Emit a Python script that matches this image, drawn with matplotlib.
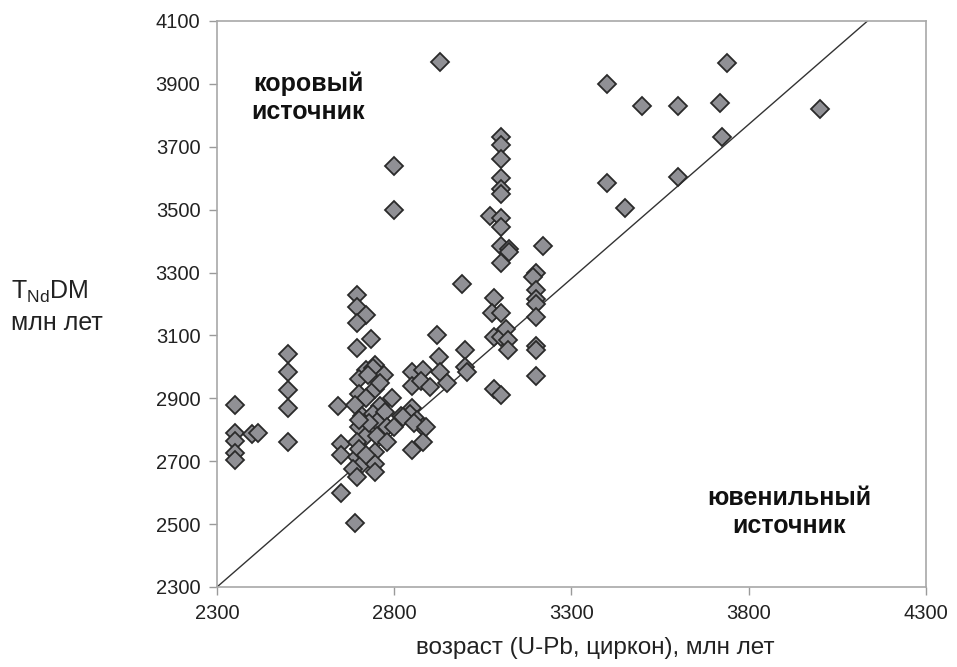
import matplotlib
matplotlib.use("Agg")
import matplotlib.pyplot as plt

plt.rcParams['font.family'] = ['Liberation Sans', 'DejaVu Sans']

# U-Pb zircon age (Ma) and Nd model age T_Nd(DM) (Ma)
age_upb = [
    2350, 2350, 2400, 2415, 2350, 2350, 2350,
    2500, 2500, 2500, 2500, 2500,
    2640, 2650, 2650, 2650,
    2695, 2695, 2720, 2695, 2735, 2695,
    2745, 2720, 2700, 2740, 2770, 2725, 2745, 2700, 2720, 2795, 2690, 2760,
    2710, 2740, 2775, 2700, 2750, 2780, 2720, 2695, 2750, 2780, 2695, 2745,
    2710, 2745, 2685, 2695, 2745, 2690, 2700, 2730, 2760, 2700, 2720,
    2800, 2800,
    2850, 2880, 2850, 2875, 2900, 2920, 2925, 2930, 2950, 2820, 2800, 2850,
    2845, 2865, 2880, 2850, 2880, 2825, 2855, 2890,
    2930,
    2990, 3000, 3000, 3005,
    3100, 3100, 3100, 3100, 3100, 3100, 3070, 3100, 3100, 3100, 3125, 3125,
    3100, 3080, 3075, 3100, 3080, 3100, 3115, 3120, 3120, 3080, 3100,
    3220, 3200, 3190, 3200, 3200, 3200, 3200, 3200, 3200, 3200,
    3400, 3500, 3600, 3720, 3740, 4000, 3725, 3400, 3450, 3600,
]
t_nd_dm = [
    2880, 2790, 2785, 2790, 2765, 2725, 2705,
    3040, 2985, 2925, 2870, 2760,
    2875, 2755, 2720, 2600,
    3230, 3190, 3165, 3140, 3090, 3060,
    3005, 2990, 2960, 2998, 2975, 2975, 2930, 2915, 2900, 2900, 2880, 2875,
    2845, 2850, 2855, 2810, 2825, 2810, 2780, 2760, 2780, 2760, 2715, 2730,
    2690, 2690, 2675, 2650, 2665, 2505, 2740, 2820, 2950, 2830, 2720,
    3640, 3500,
    2985, 2990, 2940, 2955, 2935, 3100, 3030, 2985, 2950, 2845, 2810, 2870,
    2850, 2830, 2810, 2735, 2760, 2840, 2820, 2810,
    3970,
    3265, 3055, 3000, 2985,
    3730, 3705, 3660, 3600, 3565, 3550, 3480, 3475, 3445, 3385, 3375, 3365,
    3330, 3220, 3170, 3170, 3095, 3095, 3120, 3085, 3055, 2930, 2910,
    3385, 3300, 3285, 3245, 3215, 3200, 3160, 3065, 3055, 2970,
    3900, 3830, 3830, 3840, 3965, 3820, 3730, 3585, 3505, 3605,
]

# Boundary line between crustal and juvenile sources
boundary_x = [2300, 4135]
boundary_y = [2300, 4100]

x_ticks = [2300, 2800, 3300, 3800, 4300]
y_ticks = [2300, 2500, 2700, 2900, 3100, 3300, 3500, 3700, 3900, 4100]

W, H = 957, 667
fig = plt.figure(figsize=(W / 100, H / 100), dpi=100)
ax = fig.add_axes([217 / W, 1 - 587 / H, (926 - 217) / W, (587 - 21) / H])

ax.plot(boundary_x, boundary_y, color='#333333', lw=1.0, zorder=2)
ax.plot(age_upb, t_nd_dm, linestyle='none', marker='D', markersize=8.7,
        markerfacecolor='#909095', markeredgecolor='#2a2a2a',
        markeredgewidth=1.3, zorder=3)

ax.set_xlim(2300, 4300)
ax.set_ylim(2300, 4100)
ax.set_xticks(x_ticks)
ax.set_yticks(y_ticks)
ax.tick_params(axis='both', direction='out', length=6, width=1,
               color='#9a9a9a', labelsize=14.5, labelcolor='#222222', pad=6)
for sp in ax.spines.values():
    sp.set_color('#a8a8a8')
    sp.set_linewidth(1.2)

ax.text(2557, 3855, 'коровый\nисточник', fontsize=18, fontweight='bold',
        ha='center', va='center', color='#111111', linespacing=1.22)
ax.text(3915, 2538, 'ювенильный\nисточник', fontsize=18, fontweight='bold',
        ha='center', va='center', color='#111111', linespacing=1.22)

fig.text(11 / W, 1 - 292 / H, r'T$_{\mathregular{Nd}}$DM', fontsize=18,
         ha='left', va='center', color='#222222')
fig.text(11 / W, 1 - 323 / H, 'млн лет', fontsize=18,
         ha='left', va='center', color='#222222')
fig.text(595 / W, 1 - 648 / H, 'возраст (U-Pb, циркон), млн лет', fontsize=17.5,
         ha='center', va='center', color='#222222')

fig.savefig('out.png', dpi=100)
